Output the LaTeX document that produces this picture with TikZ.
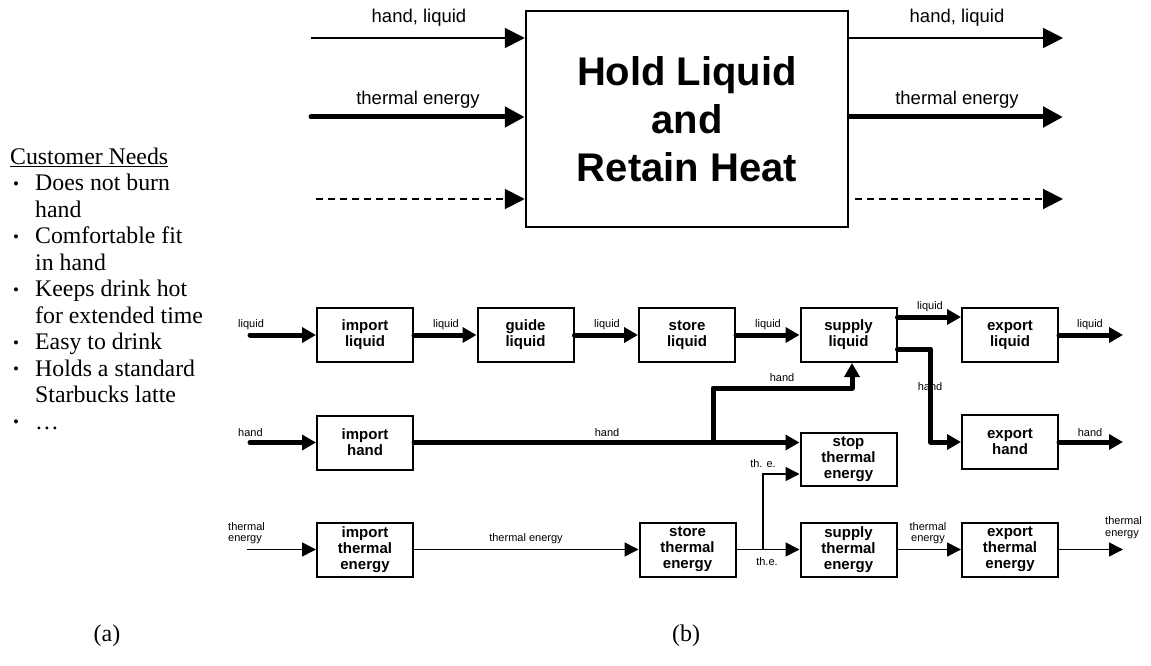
\documentclass[tikz,border=0pt]{standalone}
\usepackage{fontspec}
\setmainfont{Liberation Serif}
\newfontfamily\arial{Liberation Sans}
\usetikzlibrary{arrows.meta}
\newcommand{\cnbul}{\hspace{3pt}\raisebox{1.5pt}{\fontsize{17}{17}\selectfont\textbullet}}
\begin{document}
\begin{tikzpicture}[x=1pt,y=-1pt,
 fbox/.style={draw,line width=2pt,minimum width=96pt,minimum height=54pt,inner sep=0pt,align=center,font=\arial\bfseries\fontsize{15}{16}\selectfont},
 bigbox/.style={draw,line width=2.5pt,minimum width=322pt,minimum height=216pt,inner sep=0pt,align=center,font=\arial\bfseries\fontsize{40}{48}\selectfont},
 thk/.style={line width=5pt,line cap=round,line join=round,-{Triangle[length=14pt,width=15pt]}},
 thn/.style={line width=1.6pt,-{Triangle[length=14pt,width=14pt]}},
 tthin/.style={line width=2pt,-{Triangle[length=20pt,width=20pt]}},
 tthick/.style={line width=5pt,line cap=round,-{Triangle[length=20pt,width=20pt]}},
 tdash/.style={line width=2pt,dash pattern=on 7pt off 5pt,-{Triangle[length=20pt,width=20pt]}},
 lbl/.style={font=\arial\fontsize{11}{11.5}\selectfont,inner sep=0pt,align=center},
 tlbl/.style={font=\arial\fontsize{18.5}{20}\selectfont,inner sep=0pt},
]
\useasboundingbox (0,0) rectangle (1151,666);

% ---------- (a) customer needs ----------
\node[anchor=north west,inner sep=0pt,font=\fontsize{23.8}{26.5}\selectfont] (cn) at (10,145.5) {%
\begin{tabular}{@{}p{25pt}@{}l@{}}
\multicolumn{2}{@{}l@{}}{\underline{Customer Needs}}\\
\cnbul & Does not burn\\
 & hand\\
\cnbul & Comfortable fit\\
 & in hand\\
\cnbul & Keeps drink hot\\
 & for extended time\\
\cnbul & Easy to drink\\
\cnbul & Holds a standard\\
 & Starbucks latte\\
\cnbul & \ldots
\end{tabular}};

\node[font=\fontsize{24}{28}\selectfont,inner sep=0pt] (capa) at (107,636) {(a)};
\node[font=\fontsize{24}{28}\selectfont,inner sep=0pt] (capb) at (686,636) {(b)};

% ---------- black box ----------
\node[bigbox] (hl) at (687,119) {Hold Liquid\\and\\Retain Heat};
\coordinate (ti1) at (311,38);
\coordinate (ti2) at (311,117);
\coordinate (ti3) at (316,199);
\coordinate (to1) at (1063,38);
\coordinate (to2) at (1063,117);
\coordinate (to3) at (1063,199);
\draw[tthin] (ti1) -- ([yshift=81pt]hl.west);
\draw[tthick] (ti2) -- ([yshift=2pt]hl.west);
\draw[tdash] (ti3) -- ([yshift=-80pt]hl.west);
\draw[tthin] ([yshift=81pt]hl.east) -- (to1);
\draw[tthick] ([yshift=2pt]hl.east) -- (to2);
\draw[tdash] ([yshift=-80pt,xshift=6pt]hl.east) -- (to3);
\node[tlbl] (tl1) at (419,18) {hand, liquid};
\node[tlbl] (tl2) at (418,100) {thermal energy};
\node[tlbl] (tl3) at (957,18) {hand, liquid};
\node[tlbl] (tl4) at (957,100) {thermal energy};

% ---------- function structure ----------
\node[fbox] (il) at (365,335) {import\\liquid};
\node[fbox] (gl) at (525.5,335) {guide\\liquid};
\node[fbox] (sl) at (687,335) {store\\liquid};
\node[fbox] (spl) at (848.5,335) {supply\\liquid};
\node[fbox] (el) at (1010,335) {export\\liquid};
\node[fbox] (ih) at (365,442.5) {import\\hand};
\node[fbox,minimum height=53pt] (ste) at (848.5,459.5) {stop\\thermal\\energy};
\node[fbox] (eh) at (1010,442) {export\\hand};
\node[fbox] (ite) at (365,549.5) {import\\thermal\\energy};
\node[fbox] (sth) at (687.5,549.5) {store\\thermal\\energy};
\node[fbox] (spt) at (848.5,549.5) {supply\\thermal\\energy};
\node[fbox] (ext) at (1010,549.5) {export\\thermal\\energy};

% labels
\node[lbl,anchor=west] (l1) at (238,325) {liquid};
\node[lbl] (l2) at (446,325) {liquid};
\node[lbl] (l3) at (607,325) {liquid};
\node[lbl] (l4) at (768,325) {liquid};
\node[lbl] (l5) at (930,307) {liquid};
\node[lbl] (l6) at (1090,325) {liquid};
\node[lbl] (l7) at (930,387) {hand};
\node[lbl] (l8) at (1090,433) {hand};
\node[lbl,anchor=west] (l9) at (238,433) {hand};
\node[lbl] (l10) at (607,433) {hand};
\node[lbl] (l11) at (782,378) {hand};
\node[lbl] (l12) at (763,464) {th. e.};
\node[lbl] (l13) at (767,562) {th.e.};
\node[lbl] (l14) at (526,539) {thermal energy};
\node[lbl,anchor=west,align=left] (l15) at (228,533) {thermal\\energy};
\node[lbl] (l16) at (928,533) {thermal\\energy};
\node[lbl,anchor=west,align=left] (l17) at (1105,527.5) {thermal\\energy};

% row 1: liquid
\coordinate (inL) at (250,335);
\coordinate (outL) at (1123,335);
\draw[thk] (inL) -- (il.west);
\draw[thk] (il) -- (gl);
\draw[thk] (gl) -- (sl);
\draw[thk] (sl) -- (spl);
\draw[thk] ([yshift=18pt]spl.east) -- ([yshift=18pt]el.west);
\draw[thk] (el) -- (outL);
\draw[thk] ([yshift=-14pt]spl.east) -- ++(33,0) |- (eh.west);
\coordinate (outH) at (1123,442);
\draw[thk] (eh) -- (outH);

% row 2: hand
\coordinate (inH) at (250,442.5);
\draw[thk] (inH) -- (ih);
\draw[thk] (ih.east) -- (ih.east -| ste.west);
\coordinate (hb) at (713,442.5);
\draw[thk] (hb) |- ([xshift=3.5pt,yshift=-25pt]spl.south) -- ([xshift=3.5pt]spl.south);

% row 3: thermal energy
\coordinate (inT) at (247,549.5);
\coordinate (outT) at (1123,549.5);
\coordinate (tb) at (763,549.5);
\draw[thn] (inT) -- (ite);
\draw[thn] (ite) -- (sth);
\draw[thn] (sth) -- (spt);
\draw[thn] (tb) |- ([yshift=-14.5pt]ste.west);
\draw[thn] (spt) -- (ext);
\draw[thn] (ext) -- (outT);
\end{tikzpicture}
\end{document}
